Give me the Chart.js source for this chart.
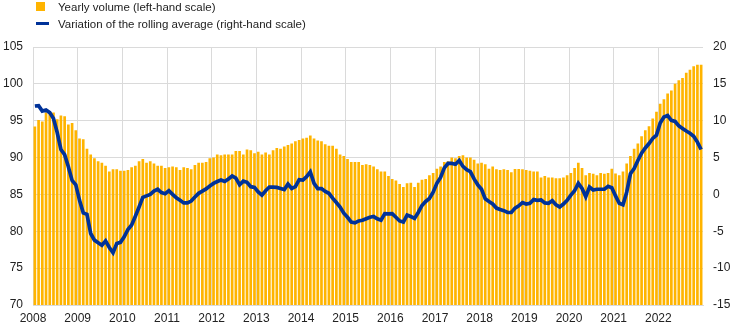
<!DOCTYPE html>
<html>
<head>
<meta charset="utf-8">
<script src="https://cdn.jsdelivr.net/npm/chart.js@4.4.1/dist/chart.umd.min.js"></script>
<style>
  body { margin: 0; background: #fff; font-family: "Liberation Sans", Arial, sans-serif; }
  #wrap { position: relative; width: 744px; height: 331px; }
  #chart { position: absolute; left: 0; top: 0; }
  .key { position: absolute; }
  .label { position: absolute; left: 58px; font-size: 11.5px; line-height: 14px; color: #222; white-space: nowrap; }
</style>
</head>
<body>
<div id="wrap">
  <canvas id="chart" width="744" height="331"></canvas>
  <div class="key" style="left:36px; top:2px; width:9px; height:9px; background:#FFB400;"></div>
  <div class="label" style="top:0px;">Yearly volume (left-hand scale)</div>
  <div class="key" style="left:36px; top:22px; width:13px; height:3px; background:#003299;"></div>
  <div class="label" style="top:17px;">Variation of the rolling average (right-hand scale)</div>
</div>
<script>
const years = ["2008", "2009", "2010", "2011", "2012", "2013", "2014", "2015",
  "2016", "2017", "2018", "2019", "2020", "2021", "2022"];

// monthly values, one row per year
const volume = [
  94.2, 95.1, 94.9, 96.1, 96.1, 96.1, 95.2, 95.7, 95.6, 94.5, 94.7, 93.7,
  92.6, 92.5, 91.2, 90.4, 89.9, 89.5, 89.3, 88.9, 88.1, 88.4, 88.4, 88.2,
  88.2, 88.3, 88.7, 88.9, 89.5, 89.8, 89.3, 89.5, 89.2, 88.9, 88.9, 88.6,
  88.7, 88.8, 88.7, 88.3, 88.7, 88.6, 88.4, 89.0, 89.3, 89.3, 89.4, 89.9,
  90.0, 90.4, 90.3, 90.4, 90.4, 90.4, 90.9, 90.9, 90.4, 91.1, 91.0, 90.6,
  90.8, 90.4, 90.7, 90.4, 91.0, 91.3, 91.2, 91.5, 91.7, 91.9, 92.2, 92.4,
  92.6, 92.7, 93.0, 92.6, 92.3, 92.2, 91.8, 91.6, 91.6, 91.2, 90.4, 90.2,
  89.8, 89.4, 89.4, 89.4, 89.0, 89.1, 89.0, 88.8, 88.4, 88.1, 88.1, 87.5,
  87.1, 86.9, 86.4, 86.0, 86.5, 86.6, 86.0, 86.6, 87.0, 87.1, 87.6, 87.9,
  88.5, 88.8, 89.4, 89.5, 90.0, 89.9, 90.2, 90.3, 90.0, 90.0, 89.7, 89.2,
  89.3, 89.1, 88.5, 88.8, 88.4, 88.3, 88.4, 88.3, 88.0, 88.45, 88.45, 88.4,
  88.3, 88.2, 88.1, 88.1, 87.3, 87.5, 87.3, 87.3, 87.2, 87.2, 87.3, 87.6,
  87.9, 88.6, 89.3, 88.6, 87.6, 87.9, 87.8, 87.6, 87.9, 87.8, 87.9, 88.5,
  87.85, 87.6, 88.1, 89.2, 90.2, 91.2, 91.9, 92.9, 93.7, 94.25, 95.3, 96.2,
  97.3, 97.9, 98.7, 99.1, 100.0, 100.5, 100.8, 101.5, 101.9, 102.4, 102.6, 102.6
];

const variation = [
  12.0, 12.05, 11.3, 11.45, 11.1, 10.3, 8.4, 6.1, 5.4, 3.75, 1.9, 1.3,
  -0.8, -2.5, -2.7, -5.3, -6.2, -6.55, -6.9, -6.3, -7.2, -7.9, -6.65, -6.5,
  -5.75, -4.75, -4.15, -2.95, -1.7, -0.4, -0.2, 0.0, 0.45, 0.7, 0.25, 0.1,
  0.5, 0.0, -0.45, -0.8, -1.15, -1.15, -0.9, -0.35, 0.15, 0.45, 0.75, 1.15,
  1.5, 1.75, 1.95, 1.75, 2.1, 2.5, 2.2, 1.3, 1.8, 1.65, 1.05, 0.95,
  0.35, -0.1, 0.5, 1.0, 1.0, 0.95, 0.8, 0.65, 1.4, 0.8, 1.05, 2.0,
  1.95, 2.4, 3.05, 1.5, 0.8, 0.8, 0.4, 0.15, -0.5, -1.1, -1.7, -2.55,
  -3.1, -3.75, -3.85, -3.6, -3.5, -3.3, -3.1, -3.0, -3.3, -3.5, -2.6, -2.65,
  -2.6, -3.1, -3.6, -3.75, -2.8, -3.0, -3.25, -2.45, -1.5, -0.95, -0.55, 0.3,
  1.5, 2.3, 3.6, 4.2, 4.2, 4.1, 4.6, 3.8, 3.35, 3.1, 2.1, 1.3,
  0.7, -0.6, -0.95, -1.3, -1.85, -2.05, -2.2, -2.45, -2.45, -1.85, -1.55, -1.1,
  -1.3, -1.2, -0.7, -0.8, -0.75, -1.15, -1.2, -0.85, -1.4, -1.7, -1.3, -0.8,
  -0.1, 0.5, 1.5, 0.8, -0.3, 1.0, 0.6, 0.7, 0.7, 0.7, 1.1, 0.9,
  -0.2, -1.2, -1.4, 0.3, 2.8, 3.5, 4.6, 5.6, 6.3, 6.9, 7.6, 8.05,
  9.7, 10.5, 10.7, 10.05, 9.9, 9.3, 8.95, 8.6, 8.3, 7.9, 7.1, 6.1
];

const leftTicks = [70, 75, 80, 85, 90, 95, 100, 105];
const rightTicks = [-15, -10, -5, 0, 5, 10, 15, 20];

Chart.defaults.font.family = "'Liberation Sans', Arial, sans-serif";
Chart.defaults.font.size = 12;
Chart.defaults.color = "#222";

const gridColor = "#dadada";

// each month sits in the middle of its slot on a linear axis of months
const atMonth = arr => arr.map((v, i) => ({ x: i + 0.5, y: v }));

new Chart(document.getElementById("chart"), {
  type: "bar",
  data: {
    datasets: [
      {
        type: "line",
        label: "Variation of the rolling average (right-hand scale)",
        data: atMonth(variation),
        yAxisID: "y1",
        borderColor: "#003299",
        borderWidth: 3.7,
        pointRadius: 0,
        tension: 0,
        order: 0
      },
      {
        type: "bar",
        label: "Yearly volume (left-hand scale)",
        data: atMonth(volume),
        yAxisID: "y",
        backgroundColor: "#FFB400",
        barPercentage: 0.72,
        categoryPercentage: 1,
        order: 1
      }
    ]
  },
  options: {
    responsive: false,
    animation: false,
    layout: { padding: { top: 47, left: 0, right: 0, bottom: 0 } },
    plugins: { legend: { display: false }, tooltip: { enabled: false } },
    scales: {
      x: {
        type: "linear",
        min: 0,
        max: volume.length,
        offset: false,
        afterBuildTicks: s => { s.ticks = years.map((y, k) => ({ value: k * 12 })); },
        afterFit: s => { s.height = 26; },
        ticks: { callback: (v, i) => years[i], autoSkip: false, maxRotation: 0, padding: 6 },
        grid: { color: gridColor, drawTicks: false, offset: false },
        border: { display: true, color: gridColor }
      },
      y: {
        position: "left",
        min: 70,
        max: 105,
        afterBuildTicks: s => { s.ticks = leftTicks.map(v => ({ value: v })); },
        afterFit: s => { s.width = 33; },
        ticks: { padding: 10 },
        grid: { color: gridColor, drawTicks: false },
        border: { display: false }
      },
      y1: {
        position: "right",
        min: -15,
        max: 20,
        afterBuildTicks: s => { s.ticks = rightTicks.map(v => ({ value: v })); },
        afterFit: s => { s.width = 41; },
        ticks: { padding: 10 },
        grid: { display: false, drawTicks: false },
        border: { display: false }
      }
    }
  }
});
</script>
</body>
</html>
